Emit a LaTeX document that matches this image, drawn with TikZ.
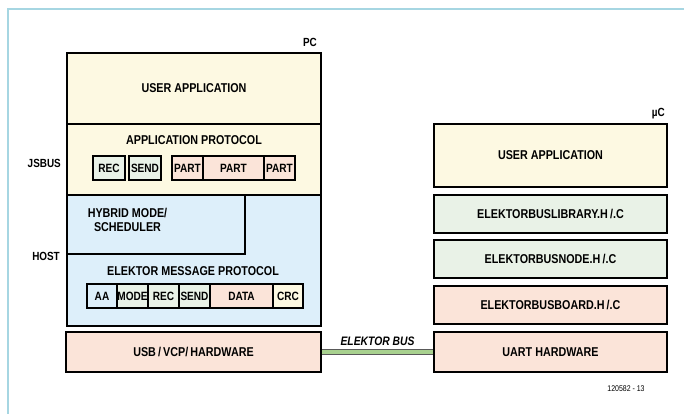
\documentclass[tikz,border=0pt]{standalone}
\usepackage{fontspec}
\setmainfont{Liberation Sans}[FakeStretch=0.84]
\usepackage{tikz}
\usetikzlibrary{positioning}
\definecolor{frameBlue}{HTML}{A6D6E2}
\definecolor{layerYellow}{HTML}{FDF9E2}
\definecolor{layerBlue}{HTML}{DDEFFA}
\definecolor{layerGreen}{HTML}{E9F2E7}
\definecolor{layerPink}{HTML}{FBE4D9}
\definecolor{busGreen}{HTML}{A8D18F}

\begin{document}
\begin{tikzpicture}[
    x=1pt,y=-1pt,
    layer/.style={draw=black,line width=2.8pt,inner sep=0pt,
                  font=\fontsize{12.8}{14}\selectfont\bfseries},
    cell/.style={draw=black,line width=1.7pt,inner sep=0pt,minimum height=24pt,
                 font=\fontsize{12}{13}\selectfont\bfseries},
    tag/.style={inner sep=0pt,font=\fontsize{11.8}{13}\selectfont\bfseries},
    bus/.style={draw=black!65,line width=0.8pt,double=busGreen,double distance=3.6pt}
  ]
  \useasboundingbox (0,0) rectangle (684,414);
  %% Frame (top and left edge only)
  \draw[frameBlue,line width=2pt] (8,414) -- (8,9) -- (684,9);
  %% PC stack
  \node[layer,fill=layerYellow,minimum width=254pt,minimum height=71pt] (pcapp) at (194,88.5) {USER APPLICATION};
  \node[layer,fill=layerYellow,minimum width=254pt,minimum height=71pt] (jsbus) at (194,159.5) {};
  \node[layer,fill=layerBlue,minimum width=254pt,minimum height=131pt] (host) at (194,260.5) {};
  \node[layer,fill=layerBlue,minimum width=178pt,minimum height=59pt] (hybrid) at (156,224.5) {};
  \node[layer,fill=layerPink,minimum width=255pt,minimum height=40pt] (usb) at (193.5,352) {USB\,/\,VCP/\,HARDWARE};
  %% Titles inside the PC stack
  \node[tag,font=\fontsize{12.8}{14}\selectfont\bfseries] (apptitle) at (194,140) {APPLICATION PROTOCOL};
  \node[tag,align=center,font=\fontsize{12.8}{14}\selectfont\bfseries] (hybridtitle) at (127.5,220) {HYBRID MODE/\\SCHEDULER};
  \node[tag,font=\fontsize{12.8}{14}\selectfont\bfseries] (msgtitle) at (193,271) {ELEKTOR MESSAGE PROTOCOL};
  %% Application protocol fields
  \node[cell,fill=layerGreen,minimum width=32pt] (arec) at (109,168) {REC};
  \node[cell,fill=layerGreen,minimum width=32pt] (asend) at (145,168) {SEND};
  \node[cell,fill=layerPink,minimum width=31pt] (apart1) at (187.5,168) {PART};
  \node[cell,fill=layerPink,minimum width=61pt] (apart2) at (233.5,168) {PART};
  \node[cell,fill=layerPink,minimum width=31pt] (apart3) at (279.5,168) {PART};
  %% Message protocol fields
  \node[cell,fill=layerBlue,minimum width=30pt] (maa) at (102,296) {AA};
  \node[cell,fill=layerGreen,minimum width=31pt] (mmode) at (132.5,296) {MODE};
  \node[cell,fill=layerGreen,minimum width=31pt] (mrec) at (163.5,296) {REC};
  \node[cell,fill=layerGreen,minimum width=31pt] (msend) at (194.5,296) {SEND};
  \node[cell,fill=layerPink,minimum width=63pt] (mdata) at (241.5,296) {DATA};
  \node[cell,fill=layerYellow,minimum width=30pt] (mcrc) at (288,296) {CRC};
  %% Side labels
  \node[tag,anchor=east] (pclabel) at (317,42) {PC};
  \node[tag,anchor=east] (jslabel) at (61,163) {JSBUS};
  \node[tag,anchor=east] (hostlabel) at (60,256) {HOST};
  %% Microcontroller stack
  \node[tag,anchor=east] (uclabel) at (665,114) {µC};
  \node[layer,fill=layerYellow,minimum width=233pt,minimum height=63pt] (ucapp) at (550.5,155.5) {USER APPLICATION};
  \node[layer,fill=layerGreen,minimum width=233pt,minimum height=38pt] (uclib) at (550.5,214) {ELEKTORBUSLIBRARY.H\,/.C};
  \node[layer,fill=layerGreen,minimum width=233pt,minimum height=38pt] (ucnode) at (550.5,259) {ELEKTORBUSNODE.H\,/.C};
  \node[layer,fill=layerPink,minimum width=233pt,minimum height=38pt] (ucboard) at (550.5,305) {ELEKTORBUSBOARD.H\,/.C};
  \node[layer,fill=layerPink,minimum width=233pt,minimum height=40pt] (uart) at (550.5,352) {UART HARDWARE};
  %% Bus between both sides
  \draw[bus] (usb.east) -- (uart.west)
    node[midway,above=6pt,inner sep=0pt,font=\fontsize{12.3}{13}\selectfont\bfseries\itshape] (buslabel) {ELEKTOR BUS};
  \node[inner sep=0pt,font=\fontsize{8.3}{9}\selectfont] (figno) at (626,389) {120582 - 13};
\end{tikzpicture}
\end{document}
